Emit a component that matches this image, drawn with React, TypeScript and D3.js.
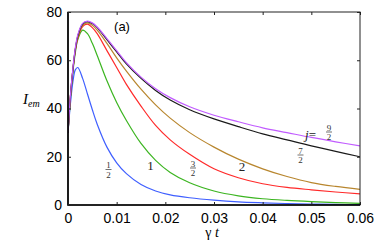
import { useEffect, useRef } from "react"
import * as d3 from "d3"

// gamma t sample points shared by all curves
const times = [
  0, 0.0005, 0.001, 0.0015, 0.002, 0.003, 0.004, 0.005, 0.006, 0.008, 0.01, 0.012, 0.015, 0.018, 0.021,
  0.025, 0.03, 0.035, 0.04, 0.045, 0.05, 0.055, 0.06,
]

const jHalf = [
  30, 42, 51, 56, 57, 52.5, 46, 39.5, 33.5, 24, 17.5, 13, 8.5, 5.8, 4.2, 3, 2, 1.3, 0.9, 0.6, 0.4, 0.25, 0.15,
]
const jOne = [
  30, 44, 55, 63, 68.5, 72.5, 71, 67, 62, 51.5, 42.5, 35, 25.5, 18.5, 13.5, 9.2, 5.8, 3.8, 2.6, 1.9, 1.4, 1, 0.7,
]
const jThreeHalf = [
  30, 45, 56, 64, 69, 74, 75, 73.5, 71, 64, 57, 50, 41, 33, 27, 21, 15, 11.3, 8.8, 7.3, 6.3, 5.4, 4.6,
]
const jTwo = [
  30, 45, 56, 64.5, 69.5, 74.5, 75.5, 74.5, 72.5, 67, 61, 55.5, 48, 41.5, 36, 30, 24, 19, 15, 11.8, 9.3, 7.7, 6.5,
]
const jSevenHalf = [
  30, 45, 56, 64.5, 70, 75, 76, 75.2, 73.5, 68.5, 63.5, 58.5, 52.5, 47.5, 43.5, 39.5, 35.7, 32.5, 29.5, 27, 24.5,
  22.2, 20,
]
const jNineHalf = [
  30, 45.5, 56.5, 65, 70.5, 75.3, 76.2, 75.5, 73.8, 69, 64, 59, 53, 48.2, 44.5, 40.7, 37.2, 34.5, 32, 30, 28, 26.2,
  24.5,
]

const xTicks = [0, 0.01, 0.02, 0.03, 0.04, 0.05, 0.06]
const yTicks = [0, 20, 40, 60, 80]

const series = [
  { values: jHalf, color: "#3f5fff" },
  { values: jOne, color: "#3cb521" },
  { values: jThreeHalf, color: "#ff2a2a" },
  { values: jTwo, color: "#b8862e" },
  { values: jSevenHalf, color: "#1a1a1a" },
  { values: jNineHalf, color: "#c15cff" },
]

const W = 382
const H = 250
const left = 68
const right = 360
const top = 12
const bottom = 205

const serif = "'Liberation Serif', 'Times New Roman', serif"

const Frac = ({ cx, cy, num, den }: { cx: number; cy: number; num: string; den: string }) => (
  <g fontFamily={serif} fontSize={9} textAnchor="middle" fill="#333">
    <text x={cx} y={cy - 1.5}>
      {num}
    </text>
    <line x1={cx - 3} x2={cx + 3} y1={cy} y2={cy} stroke="#333" strokeWidth={0.7} />
    <text x={cx} y={cy + 8}>
      {den}
    </text>
  </g>
)

const App = () => {
  const ref = useRef<SVGGElement>(null)

  useEffect(() => {
    const svg = d3.select(ref.current)
    svg.selectAll("*").remove()

    const x = d3.scaleLinear().domain([0, 0.06]).range([left, right])
    const y = d3.scaleLinear().domain([0, 80]).range([bottom, top])

    const line = d3
      .line<number>()
      .x((_, i) => x(times[i]))
      .y((d) => y(d))
      .curve(d3.curveCatmullRom.alpha(0.5))

    svg
      .append("clipPath")
      .attr("id", "clip")
      .append("rect")
      .attr("x", left)
      .attr("y", top)
      .attr("width", right - left)
      .attr("height", bottom - top)

    series.forEach((s) => {
      svg
        .append("path")
        .attr("d", line(s.values))
        .attr("fill", "none")
        .attr("stroke", s.color)
        .attr("stroke-width", 1.2)
        .attr("clip-path", "url(#clip)")
    })

    // frame
    svg
      .append("rect")
      .attr("x", left)
      .attr("y", top)
      .attr("width", right - left)
      .attr("height", bottom - top)
      .attr("fill", "none")
      .attr("stroke", "#222")
      .attr("stroke-width", 1)
    svg
      .append("path")
      .attr("d", `M${left},${top}V${bottom}H${right}`)
      .attr("fill", "none")
      .attr("stroke", "#000")
      .attr("stroke-width", 1.6)

    const bottomAxis = svg
      .append("g")
      .attr("transform", `translate(0,${bottom})`)
      .call(d3.axisBottom(x).tickValues(xTicks).tickSize(-3).tickPadding(8).tickFormat(d3.format("~g")) as any)
    const topAxis = svg
      .append("g")
      .attr("transform", `translate(0,${top})`)
      .call(d3.axisTop(x).tickValues(xTicks).tickSize(-3).tickFormat(() => "") as any)
    const leftAxis = svg
      .append("g")
      .attr("transform", `translate(${left},0)`)
      .call(d3.axisLeft(y).tickValues(yTicks).tickSize(-3).tickPadding(6) as any)
    const rightAxis = svg
      .append("g")
      .attr("transform", `translate(${right},0)`)
      .call(d3.axisRight(y).tickValues(yTicks).tickSize(-3).tickFormat(() => "") as any)

    ;[bottomAxis, topAxis, leftAxis, rightAxis].forEach((a) => {
      a.select(".domain").remove()
      a.selectAll("line").attr("stroke", "#222")
      a.selectAll("text")
        .attr("font-family", "'Liberation Sans', Arial, sans-serif")
        .attr("font-size", 14)
        .attr("fill", "#000")
    })
  }, [])

  return (
    <svg width={W} height={H} style={{ position: "absolute", left: 0, top: 0, background: "#fff" }}>
      <g ref={ref} />
      <text x={122} y={31} fontFamily="'Liberation Sans', Arial, sans-serif" fontSize={13} textAnchor="middle">
        (a)
      </text>
      <text x={23} y={104} fontFamily={serif} fontSize={15} fontStyle="italic">
        I
        <tspan fontSize={10} dy={3}>
          em
        </tspan>
      </text>
      <text x={212} y={237} fontFamily={serif} fontSize={14} textAnchor="middle">
        γ <tspan fontStyle="italic">t</tspan>
      </text>
      <Frac cx={108.5} cy={169.5} num="1" den="2" />
      <text x={150.5} y={169.5} fontFamily={serif} fontSize={13} textAnchor="middle" fill="#222">
        1
      </text>
      <Frac cx={193} cy={168} num="3" den="2" />
      <text x={242} y={171} fontFamily={serif} fontSize={13} textAnchor="middle" fill="#222">
        2
      </text>
      <Frac cx={300.5} cy={155} num="7" den="2" />
      <text x={305} y={139} fontFamily={serif} fontSize={13} fill="#222">
        <tspan fontStyle="italic">j</tspan>=
      </text>
      <Frac cx={329} cy={132} num="9" den="2" />
    </svg>
  )
}

export default App
